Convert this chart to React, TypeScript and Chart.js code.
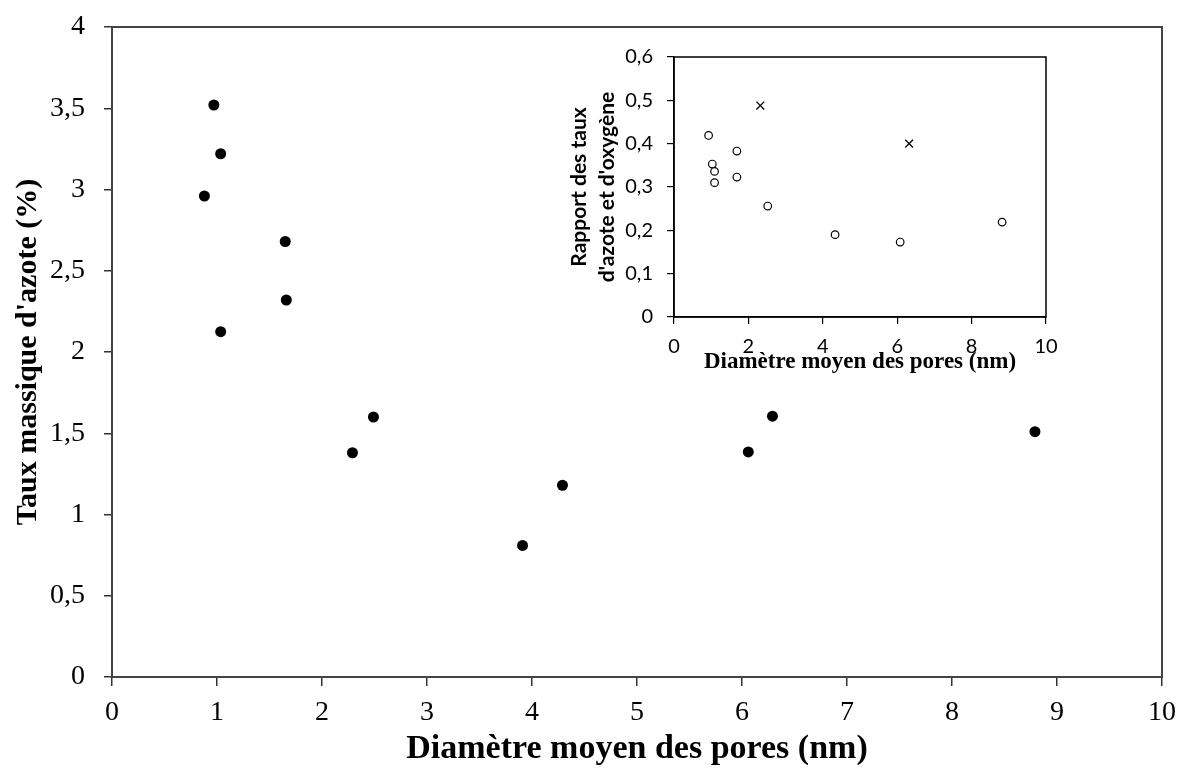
import React, { useEffect, useRef } from "react";
import { Chart, registerables } from "chart.js";

Chart.register(...registerables);

// Main chart data: mean pore diameter (nm) vs nitrogen mass content (%)
const mainDiameter = [0.97, 1.035, 0.88, 1.65, 1.66, 1.035, 2.49, 2.29, 3.91, 4.29, 6.06, 6.29, 8.79];
const mainNitrogen = [3.52, 3.22, 2.96, 2.68, 2.32, 2.125, 1.6, 1.38, 0.81, 1.18, 1.385, 1.605, 1.51];

// Inset data: N/O ratio vs mean pore diameter
const insetCircleDiameter = [0.93, 1.03, 1.09, 1.09, 1.69, 1.69, 2.52, 4.33, 6.08, 8.82];
const insetCircleRatio = [0.419, 0.353, 0.336, 0.31, 0.383, 0.323, 0.256, 0.19, 0.173, 0.219];
const insetCrossDiameter = [2.32, 6.32];
const insetCrossRatio = [0.488, 0.4];

const mainXTitle = "Diamètre moyen des pores (nm)";
const mainYTitle = "Taux massique d'azote (%)";
const insetXTitle = "Diamètre moyen des pores (nm)";
const insetYTitle = ["Rapport des taux", "d'azote et d'oxygène"];

const comma = (v: number, d: number) => {
  const r = Math.round(v * Math.pow(10, d)) / Math.pow(10, d);
  return String(r).replace(".", ",");
};

const boxPlugin = {
  id: "box",
  afterDraw(chart: any, _args: any, opts: any) {
    const { ctx, chartArea } = chart;
    const { left, top, right, bottom } = chartArea;
    ctx.save();
    ctx.strokeStyle = opts.color || "#000";
    ctx.lineWidth = opts.width || 1;
    ctx.strokeRect(left, top, right - left, bottom - top);
    ctx.restore();
  },
};

const fixSize = (w: number | null, h: number | null) => (s: any) => {
  if (w !== null) s.width = w;
  if (h !== null) s.height = h;
  s.paddingTop = 0;
  s.paddingBottom = 0;
  s.paddingLeft = 0;
  s.paddingRight = 0;
};

export default function App() {
  const mainRef = useRef<HTMLCanvasElement | null>(null);
  const insetRef = useRef<HTMLCanvasElement | null>(null);

  useEffect(() => {
    if (!mainRef.current || !insetRef.current) return;
    const serif = "'Liberation Serif', 'Times New Roman', serif";
    const sans = "Lato, 'Open Sans', sans-serif";

    const main = new Chart(mainRef.current, {
      type: "scatter",
      data: {
        datasets: [
          {
            data: mainDiameter.map((x, i) => ({ x, y: mainNitrogen[i] })),
            pointRadius: 5.5,
            pointBackgroundColor: "#000",
            pointBorderColor: "#000",
            pointBorderWidth: 0,
            showLine: false,
          },
        ],
      },
      options: {
        animation: false,
        responsive: false,
        devicePixelRatio: 1,
        layout: { padding: { top: 27, right: 20, left: 0, bottom: 0 } },
        plugins: {
          legend: { display: false },
          tooltip: { enabled: false },
          box: { color: "#444", width: 2 },
        } as any,
        scales: {
          x: {
            type: "linear",
            min: 0,
            max: 10,
            ticks: {
              stepSize: 1,
              padding: 10,
              color: "#000",
              font: { family: serif, size: 28 },
            },
            grid: { drawOnChartArea: false, drawTicks: true, tickLength: 9, color: "#333", lineWidth: 1.5 },
            border: { display: true, color: "#222", width: 2 },
            title: {
              display: true,
              text: mainXTitle,
              color: "#000",
              font: { family: serif, size: 34, weight: "bold" },
              padding: { top: 0, bottom: 0 },
            },
            afterFit: fixSize(null, 93),
          },
          y: {
            type: "linear",
            min: 0,
            max: 4,
            ticks: {
              stepSize: 0.5,
              padding: 19,
              color: "#000",
              font: { family: serif, size: 28 },
              callback: (v: any) => comma(Number(v), 1),
            },
            grid: { drawOnChartArea: false, drawTicks: true, tickLength: 8, color: "#333", lineWidth: 1.5 },
            border: { display: true, color: "#222", width: 2 },
            title: {
              display: true,
              text: mainYTitle,
              color: "#000",
              font: { family: serif, size: 30, weight: "bold" },
              padding: { top: 10, bottom: 0 },
            },
            afterFit: fixSize(112, null),
          },
        },
      } as any,
      plugins: [boxPlugin],
    });

    const inset = new Chart(insetRef.current, {
      type: "scatter",
      data: {
        datasets: [
          {
            data: insetCircleDiameter.map((x, i) => ({ x, y: insetCircleRatio[i] })),
            pointStyle: "circle",
            pointRadius: 3.8,
            pointBackgroundColor: "rgba(255,255,255,1)",
            pointBorderColor: "#000",
            pointBorderWidth: 1.2,
            showLine: false,
          },
          {
            data: insetCrossDiameter.map((x, i) => ({ x, y: insetCrossRatio[i] })),
            pointStyle: "crossRot",
            pointRadius: 5.5,
            pointBorderColor: "#000",
            pointBorderWidth: 1.3,
            showLine: false,
          },
        ],
      },
      options: {
        animation: false,
        responsive: false,
        devicePixelRatio: 1,
        layout: { padding: { top: 17, right: 34, left: 0, bottom: 0 } },
        plugins: {
          legend: { display: false },
          tooltip: { enabled: false },
          box: { color: "#000", width: 1.5 },
        } as any,
        scales: {
          x: {
            type: "linear",
            min: 0,
            max: 10,
            ticks: {
              stepSize: 2,
              padding: 11,
              color: "#000",
              font: { family: sans, size: 20 },
            },
            grid: { drawOnChartArea: false, drawTicks: true, tickLength: 7, color: "#000", lineWidth: 1.2 },
            border: { display: true, color: "#000", width: 1.5 },
            title: {
              display: true,
              text: insetXTitle,
              color: "#000",
              font: { family: serif, size: 23, weight: "bold" },
              padding: { top: 0, bottom: 9 },
            },
            afterFit: fixSize(null, 68),
          },
          y: {
            type: "linear",
            min: 0,
            max: 0.6,
            ticks: {
              stepSize: 0.1,
              padding: 14,
              color: "#000",
              font: { family: sans, size: 20 },
              callback: (v: any) => comma(Number(v), 1),
            },
            grid: { drawOnChartArea: false, drawTicks: true, tickLength: 7, color: "#000", lineWidth: 1.2 },
            border: { display: true, color: "#000", width: 1.5 },
            title: {
              display: true,
              text: insetYTitle,
              color: "#000",
              font: { family: sans, size: 21, weight: "bold", lineHeight: 28 / 21 },
              padding: { top: 25, bottom: 0 },
            },
            afterFit: fixSize(134, null),
          },
        },
      } as any,
      plugins: [boxPlugin],
    });

    return () => {
      main.destroy();
      inset.destroy();
    };
  }, []);

  return (
    <div style={{ position: "absolute", left: 0, top: 0, width: 1182, height: 770, background: "#fff" }}>
      <canvas
        ref={mainRef}
        width={1182}
        height={770}
        style={{ position: "absolute", left: 0, top: 0, width: 1182, height: 770, display: "block" }}
      />
      <canvas
        ref={insetRef}
        width={540}
        height={345}
        style={{ position: "absolute", left: 540, top: 40, width: 540, height: 345, display: "block" }}
      />
    </div>
  );
}
